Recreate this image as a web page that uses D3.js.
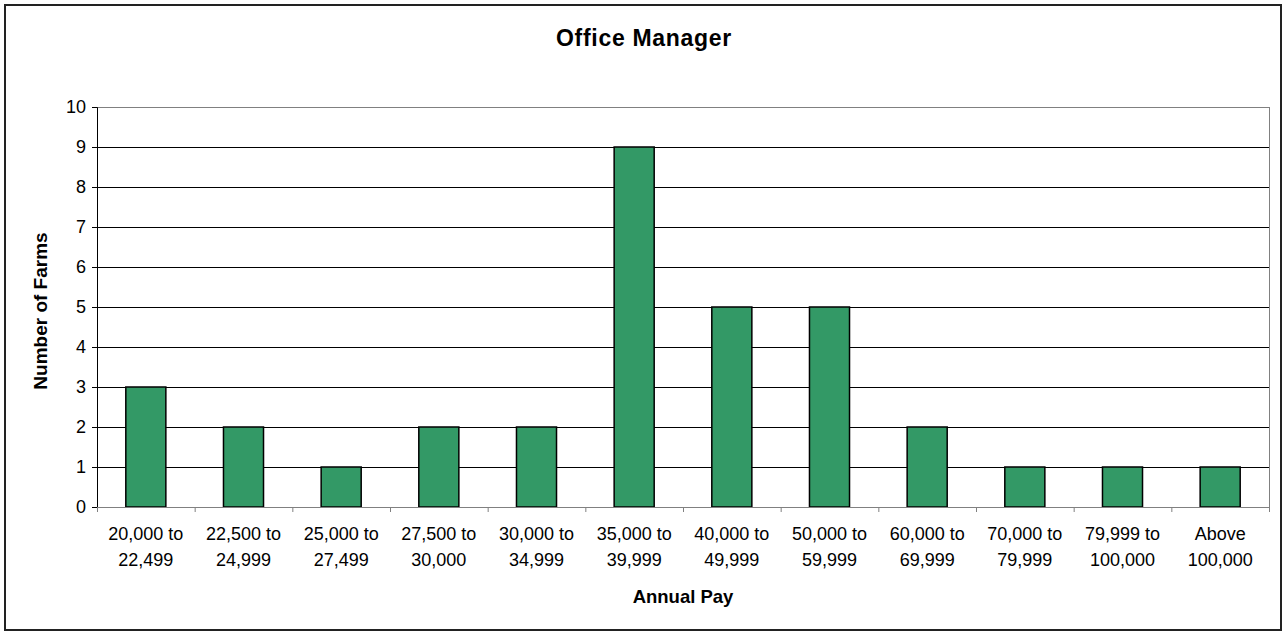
<!DOCTYPE html>
<html>
<head>
<meta charset="utf-8">
<script src="https://cdn.jsdelivr.net/npm/d3@7"></script>
<style>
  body { margin: 0; background: #fff; }
  svg { display: block; }
  text { font-family: "Liberation Sans", Arial, sans-serif; fill: #000; }
</style>
</head>
<body>
<svg width="1286" height="635"></svg>
<script>
// ===== data =====
const payFrom = ["20,000 to", "22,500 to", "25,000 to", "27,500 to", "30,000 to", "35,000 to",
                 "40,000 to", "50,000 to", "60,000 to", "70,000 to", "79,999 to", "Above"];
const payTo = ["22,499", "24,999", "27,499", "30,000", "34,999", "39,999",
               "49,999", "59,999", "69,999", "79,999", "100,000", "100,000"];
const farmCounts = [3, 2, 1, 2, 2, 9, 5, 5, 2, 1, 1, 1];
const yTicks = [0, 1, 2, 3, 4, 5, 6, 7, 8, 9, 10];

const svg = d3.select("svg");
const margin = {top: 107, right: 17, bottom: 128, left: 97};
const width = +svg.attr("width");
const height = +svg.attr("height");
const innerWidth = width - margin.left - margin.right;
const innerHeight = height - margin.top - margin.bottom;

// outer chart border
svg.append("path")
  .attr("d", "M5,5H1281V630H5Z")
  .attr("fill", "none").attr("stroke", "#222").attr("stroke-width", 2);

const chart = svg.append("g")
  .attr("transform", `translate(${margin.left}, ${margin.top})`);

const xScale = d3.scaleBand()
  .domain(d3.range(farmCounts.length))
  .range([0, innerWidth])
  .padding(0);

const yScale = d3.scaleLinear()
  .domain([0, 10])
  .range([innerHeight, 0]);

// gridlines
chart.append("g")
  .selectAll("line")
  .data(yTicks.filter(d => d > 0))
  .enter().append("line")
  .attr("x1", 0).attr("x2", innerWidth)
  .attr("y1", d => yScale(d) + 0.5).attr("y2", d => yScale(d) + 0.5)
  .attr("stroke", d => d === 10 ? "#808080" : "#000")
  .attr("stroke-width", 1);

// plot area right border
chart.append("line")
  .attr("x1", innerWidth + 0.5).attr("x2", innerWidth + 0.5)
  .attr("y1", 0).attr("y2", innerHeight)
  .attr("stroke", "#808080");

// bars
const barW = xScale.bandwidth() * 0.41;
chart.selectAll("rect.bar")
  .data(farmCounts)
  .enter().append("rect")
  .attr("class", "bar")
  .attr("x", (d, i) => xScale(i) + (xScale.bandwidth() - barW) / 2)
  .attr("y", d => yScale(d))
  .attr("width", barW)
  .attr("height", d => innerHeight - yScale(d))
  .attr("fill", "#339966")
  .attr("stroke", "#000")
  .attr("stroke-width", 1.5);

// y axis
const yAxis = chart.append("g")
  .call(d3.axisLeft(yScale).tickValues(yTicks).tickSize(5).tickPadding(6).tickFormat(d3.format("d")));
yAxis.attr("font-family", null).attr("font-size", null);
yAxis.select(".domain").attr("stroke", "#000");
yAxis.selectAll(".tick line").attr("stroke", "#000");
yAxis.selectAll("text").attr("font-size", 18).attr("fill", "#000");

// x axis (ticks on category boundaries)
const xEdge = d3.scaleLinear().domain([0, farmCounts.length]).range([0, innerWidth]);
const xAxis = chart.append("g")
  .attr("transform", `translate(0, ${innerHeight})`)
  .call(d3.axisBottom(xEdge).tickValues(d3.range(farmCounts.length + 1))
    .tickSize(5).tickSizeOuter(0).tickFormat(""));
xAxis.select(".domain").attr("stroke", "#808080");
xAxis.selectAll(".tick line").attr("stroke", "#808080");
xAxis.selectAll("text").remove();

// category labels, two lines each
const labelG = chart.append("g").attr("transform", `translate(0, ${innerHeight})`);
labelG.selectAll("text.from")
  .data(payFrom)
  .enter().append("text")
  .attr("class", "from")
  .attr("x", (d, i) => xScale(i) + xScale.bandwidth() / 2)
  .attr("y", 33)
  .attr("text-anchor", "middle")
  .attr("font-size", 18)
  .text(d => d);
labelG.selectAll("text.to")
  .data(payTo)
  .enter().append("text")
  .attr("class", "to")
  .attr("x", (d, i) => xScale(i) + xScale.bandwidth() / 2)
  .attr("y", 59)
  .attr("text-anchor", "middle")
  .attr("font-size", 18)
  .text(d => d);

// title
svg.append("text")
  .attr("x", 644).attr("y", 46)
  .attr("text-anchor", "middle")
  .attr("font-size", 23).attr("font-weight", "bold")
  .attr("letter-spacing", 0.7)
  .text("Office Manager");

// axis titles
svg.append("text")
  .attr("x", margin.left + innerWidth / 2).attr("y", 603)
  .attr("text-anchor", "middle")
  .attr("font-size", 18.5).attr("font-weight", "bold")
  .text("Annual Pay");

svg.append("text")
  .attr("transform", `translate(47, ${margin.top + innerHeight / 2 + 4}) rotate(-90)`)
  .attr("text-anchor", "middle")
  .attr("font-size", 19).attr("font-weight", "bold")
  .text("Number of Farms");
</script>
</body>
</html>
